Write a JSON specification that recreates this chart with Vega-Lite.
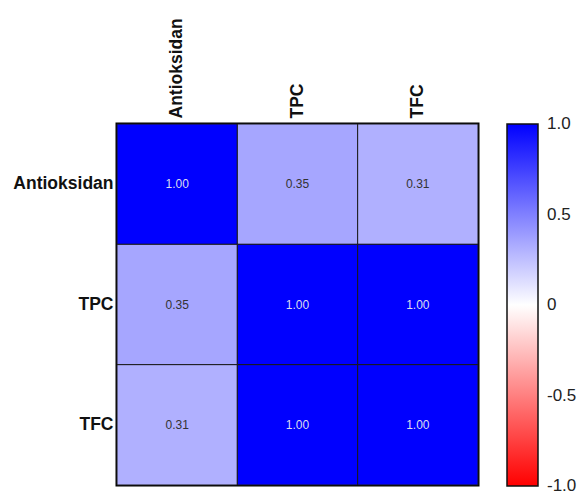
{
  "$schema": "https://vega.github.io/schema/vega-lite/v6.json",
  "autosize": {"type": "none"},
  "padding": {"left": 117, "top": 124, "right": 109, "bottom": 6},
  "width": 361,
  "height": 361,
  "background": "white",
  "data": {"values": [
    {"x": "Antioksidan", "y": "Antioksidan", "r": 1.00},
    {"x": "TPC", "y": "Antioksidan", "r": 0.35},
    {"x": "TFC", "y": "Antioksidan", "r": 0.31},
    {"x": "Antioksidan", "y": "TPC", "r": 0.35},
    {"x": "TPC", "y": "TPC", "r": 1.00},
    {"x": "TFC", "y": "TPC", "r": 1.00},
    {"x": "Antioksidan", "y": "TFC", "r": 0.31},
    {"x": "TPC", "y": "TFC", "r": 1.00},
    {"x": "TFC", "y": "TFC", "r": 1.00}
  ]},
  "encoding": {
    "x": {"field": "x", "type": "nominal", "sort": ["Antioksidan", "TPC", "TFC"],
      "scale": {"paddingInner": 0, "paddingOuter": 0},
      "axis": {"orient": "top", "title": null, "labelAngle": -90, "labelPadding": 6}},
    "y": {"field": "y", "type": "nominal", "sort": ["Antioksidan", "TPC", "TFC"],
      "scale": {"paddingInner": 0, "paddingOuter": 0},
      "axis": {"title": null, "labelPadding": 4}}
  },
  "layer": [
    {
      "mark": {"type": "rect", "stroke": "#1a1a1a", "strokeWidth": 1},
      "encoding": {
        "color": {"field": "r", "type": "quantitative", "title": null,
          "scale": {"domain": [-1, 0, 1], "range": ["#ff0000", "#ffffff", "#0000ff"], "interpolate": "rgb"},
          "legend": {
            "orient": "none", "legendX": 390, "legendY": 0,
            "gradientLength": 362, "gradientThickness": 31,
            "gradientStrokeColor": "#111", "gradientStrokeWidth": 1.5,
            "values": [-1, -0.5, 0, 0.5, 1],
            "labelExpr": "datum.value == 0 ? '0' : (datum.value < 0 ? '-' : '') + format(abs(datum.value), '.1f')",
            "labelFont": "Liberation Sans", "labelFontSize": 17, "labelColor": "#222",
            "labelOffset": 9, "labelBaseline": "middle", "labelOverlap": false,
            "encode": {"labels": {"update": {"baseline": {"value": "middle"}}}}
          }}
      }
    },
    {
      "mark": {"type": "text", "font": "Liberation Sans", "fontSize": 12},
      "encoding": {
        "text": {"field": "r", "type": "quantitative", "format": ".2f"},
        "color": {"condition": {"test": "datum.r > 0.6", "value": "#dcdcf0"}, "value": "#333333"}
      }
    }
  ],
  "config": {
    "view": {"stroke": "#000", "strokeWidth": 3},
    "axis": {"domain": false, "ticks": false, "grid": false,
      "labelFont": "Liberation Sans", "labelFontSize": 17.5, "labelFontWeight": "bold", "labelColor": "#111"}
  }
}
